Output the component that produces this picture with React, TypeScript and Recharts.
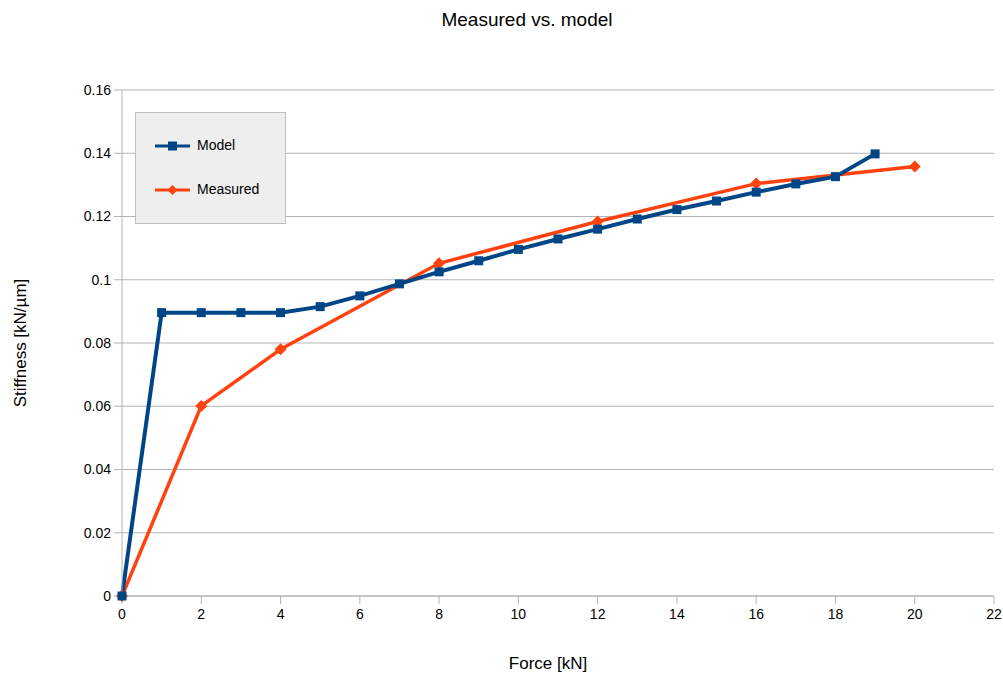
import { LineChart, Line, XAxis, YAxis, CartesianGrid } from "recharts";

// model curve, one point per kN
const modelForce = [0, 1, 2, 3, 4, 5, 6, 7, 8, 9, 10, 11, 12, 13, 14, 15, 16, 17, 18, 19];
const modelStiffness = [
  0, 0.0896, 0.0896, 0.0896, 0.0896, 0.0915, 0.0949, 0.0987, 0.1025, 0.106, 0.1096,
  0.1129, 0.116, 0.1192, 0.1222, 0.1249, 0.1277, 0.1303, 0.1326, 0.1398,
];

// measured points
const measuredForce = [0, 2, 4, 8, 12, 16, 20];
const measuredStiffness = [0, 0.0601, 0.078, 0.1052, 0.1184, 0.1304, 0.1358];

const xTicks = [0, 2, 4, 6, 8, 10, 12, 14, 16, 18, 20, 22];
const yTicks = [0, 0.02, 0.04, 0.06, 0.08, 0.1, 0.12, 0.14, 0.16];

const BLUE = "#004586";
const ORANGE = "#ff420e";
const GRID = "#b3b3b3";
const FONT = "'Liberation Sans', Arial, sans-serif";

const modelData = modelForce.map((x, i) => ({ x, y: modelStiffness[i] }));
const measuredData = measuredForce.map((x, i) => ({ x, y: measuredStiffness[i] }));

const Square = (props: any) => {
  const { cx, cy, index } = props;
  if (cx == null || cy == null) return <g key={`s-${index}`} />;
  return <rect key={`s-${index}`} x={cx - 4.5} y={cy - 4.5} width={9} height={9} fill={BLUE} />;
};

const Diamond = (props: any) => {
  const { cx, cy, index } = props;
  if (cx == null || cy == null) return <g key={`d-${index}`} />;
  const r = 6;
  return (
    <polygon
      key={`d-${index}`}
      points={`${cx},${cy - r} ${cx + r},${cy} ${cx},${cy + r} ${cx - r},${cy}`}
      fill={ORANGE}
    />
  );
};

const LegendBox = () => (
  <div
    style={{
      position: "absolute",
      left: 135,
      top: 112,
      width: 151,
      height: 112,
      background: "#eeeeee",
      border: "1px solid #c0c0c0",
      boxSizing: "border-box",
      fontFamily: FONT,
      fontSize: 14,
      color: "#000",
    }}
  >
    <svg width={40} height={110} style={{ position: "absolute", left: 17, top: 0 }}>
      <line x1={2} y1={33} x2={37} y2={33} stroke={BLUE} strokeWidth={3} />
      <rect x={15} y={28.5} width={9} height={9} fill={BLUE} />
      <line x1={2} y1={77} x2={37} y2={77} stroke={ORANGE} strokeWidth={3} />
      <polygon points="19.5,72 24.5,77 19.5,82 14.5,77" fill={ORANGE} />
    </svg>
    <div style={{ position: "absolute", left: 61, top: 24 }}>Model</div>
    <div style={{ position: "absolute", left: 61, top: 68 }}>Measured</div>
  </div>
);

export default function App() {
  return (
    <div style={{ position: "absolute", left: 0, top: 0, width: 1003, height: 673, background: "#fff" }}>
      <LineChart
        width={1003}
        height={673}
        margin={{ top: 90, right: 9, bottom: 0, left: 0 }}
        style={{ fontFamily: FONT }}
      >
        <CartesianGrid vertical={false} stroke={GRID} strokeWidth={1} />
        <XAxis
          type="number"
          dataKey="x"
          domain={[0, 22]}
          ticks={xTicks}
          interval={0}
          height={77}
          tickSize={8}
          tickMargin={5}
          stroke={GRID}
          tick={{ fill: "#000", fontSize: 14 }}
          label={{
            value: "Force [kN]",
            position: "insideBottom",
            offset: 4,
            fill: "#000",
            fontSize: 17,
            dx: -10,
          }}
        />
        <YAxis
          type="number"
          dataKey="y"
          domain={[0, 0.16]}
          ticks={yTicks}
          interval={0}
          width={122}
          tickSize={8}
          tickMargin={3}
          stroke={GRID}
          tick={{ fill: "#000", fontSize: 14 }}
          tickFormatter={(v: number) => String(Number(v.toFixed(2)))}
          label={{
            value: "Stiffness [kN/µm]",
            angle: -90,
            position: "insideLeft",
            offset: 20,
            fill: "#000",
            fontSize: 17,
            style: { textAnchor: "middle" },
          }}
        />
        <Line
          data={measuredData}
          dataKey="y"
          name="Measured"
          stroke={ORANGE}
          strokeWidth={3.5}
          dot={<Diamond />}
          activeDot={false}
          isAnimationActive={false}
        />
        <Line
          data={modelData}
          dataKey="y"
          name="Model"
          stroke={BLUE}
          strokeWidth={4}
          dot={<Square />}
          activeDot={false}
          isAnimationActive={false}
        />
      </LineChart>
      <div
        style={{
          position: "absolute",
          top: 9,
          left: 0,
          width: 1054,
          textAlign: "center",
          fontFamily: FONT,
          fontSize: 19,
          color: "#000",
        }}
      >
        Measured vs. model
      </div>
      <LegendBox />
    </div>
  );
}
